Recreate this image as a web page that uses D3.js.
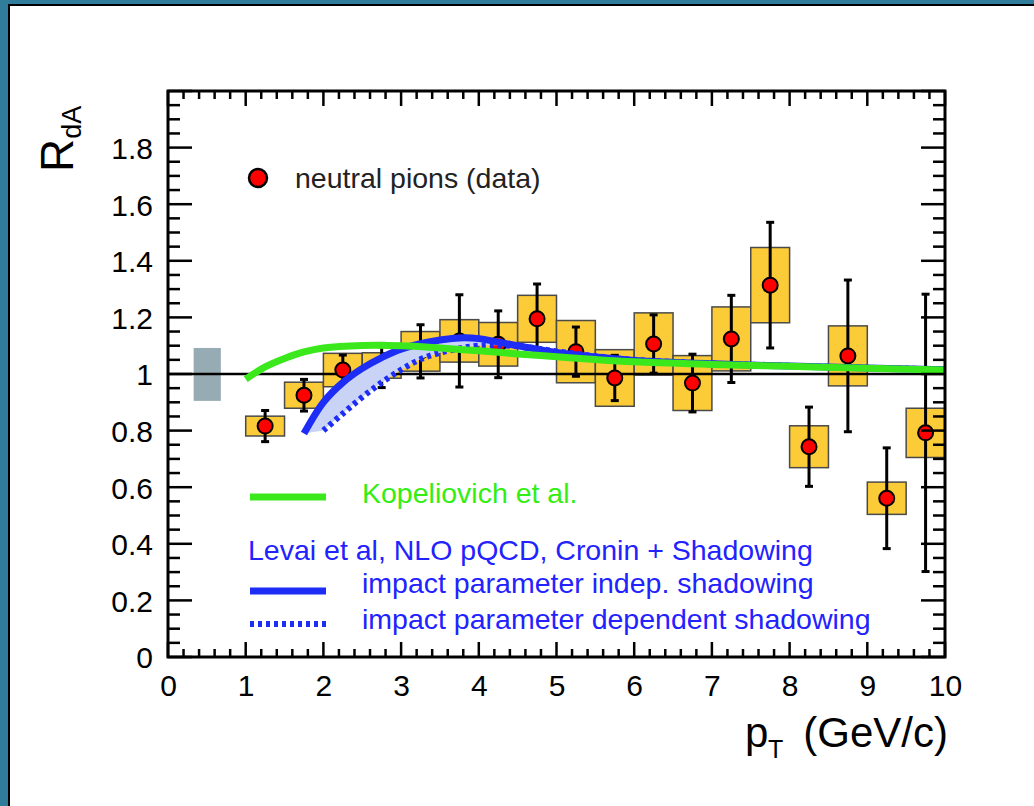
<!DOCTYPE html>
<html>
<head>
<meta charset="utf-8">
<script src="https://cdn.jsdelivr.net/npm/d3@7"></script>
<style>
html,body{margin:0;padding:0;background:#fff;}
svg{display:block;}
text{font-family:"Liberation Sans",Arial,Helvetica,sans-serif;}
</style>
</head>
<body>
<svg id="chart" width="1034" height="806"></svg>
<script>
// ---------- data ----------
const ptCenters = [1.25,1.75,2.25,2.75,3.25,3.75,4.25,4.75,5.25,5.75,6.25,6.75,7.25,7.75,8.25,8.75,9.25,9.75];
const rdaValues = [0.816,0.925,1.014,1.03,1.08,1.117,1.105,1.195,1.079,0.986,1.106,0.968,1.124,1.314,0.743,1.064,0.561,0.792];
const statErrors = [0.055,0.056,0.053,0.078,0.094,0.163,0.118,0.123,0.087,0.08,0.103,0.102,0.154,0.222,0.14,0.268,0.178,0.49];
const sysErrors = [0.035,0.046,0.059,0.045,0.07,0.075,0.077,0.083,0.11,0.1,0.11,0.097,0.113,0.133,0.074,0.106,0.057,0.087];
const binHalfWidth = 0.25;

const normBoxX = [0.33, 0.68];
const normBoxY = [0.905, 1.092];

const kopX = [1.0,1.25,1.5,1.75,2.0,2.5,3.0,3.5,4.0,4.5,5.0,5.5,6.0,7.0,8.0,9.0,10.0];
const kopY = [0.982,1.025,1.055,1.078,1.092,1.101,1.1,1.092,1.082,1.071,1.061,1.051,1.043,1.034,1.027,1.02,1.014];

const indepX = [1.75,2.0,2.25,2.5,2.75,3.0,3.5,3.8,4.0,4.5,5.0,5.5,6.0,7.0,8.0,9.0,10.0];
const indepY = [0.79,0.9,0.97,1.02,1.058,1.088,1.12,1.128,1.125,1.1,1.076,1.06,1.048,1.036,1.028,1.021,1.015];

const depX = [2.0,2.25,2.5,2.75,3.0,3.25,3.5,3.75,4.0,4.5,5.0,5.5,6.0,7.0,8.0,9.0,10.0];
const depY = [0.8,0.86,0.918,0.97,1.015,1.052,1.075,1.09,1.1,1.098,1.08,1.063,1.05,1.037,1.029,1.022,1.016];

const xTicks = [0,1,2,3,4,5,6,7,8,9,10];
const yTicks = [0,0.2,0.4,0.6,0.8,1,1.2,1.4,1.6,1.8];
const yTickLabels = ["0","0.2","0.4","0.6","0.8","1","1.2","1.4","1.6","1.8"];

// ---------- layout ----------
const svg = d3.select("#chart");
const L = 168, R = 945, T = 91, B = 657;
const x = d3.scaleLinear().domain([0,10]).range([L,R]);
const y = d3.scaleLinear().domain([0,2]).range([B,T]);

const teal = "#2f7c9b";
const green = "#3be81c";
const blue = "#1d2df5";
const textBlue = "#2222ff";

// frame border
svg.append("rect").attr("x",0).attr("y",0).attr("width",1034).attr("height",4).attr("fill",teal);
svg.append("rect").attr("x",0).attr("y",0).attr("width",8).attr("height",806).attr("fill",teal);
svg.append("line").attr("x1",8).attr("x2",1034).attr("y1",5).attr("y2",5).attr("stroke","#000").attr("stroke-width",2);
svg.append("line").attr("x1",9).attr("x2",9).attr("y1",4).attr("y2",806).attr("stroke","#000").attr("stroke-width",2);

const plot = svg.append("g");
const clip = svg.append("clipPath").attr("id","clipP");
clip.append("rect").attr("x",L).attr("y",T).attr("width",R-L).attr("height",B-T);

// normalization box
plot.append("rect")
  .attr("x",x(normBoxX[0])).attr("width",x(normBoxX[1])-x(normBoxX[0]))
  .attr("y",y(normBoxY[1])).attr("height",y(normBoxY[0])-y(normBoxY[1]))
  .attr("fill","#97abb4");

// systematic boxes
const pts = ptCenters.map((c,i)=>({x:c,y:rdaValues[i],s:statErrors[i],sys:sysErrors[i]}));
const gData = plot.append("g").attr("clip-path","url(#clipP)");
gData.selectAll("rect.sys").data(pts).enter().append("rect")
  .attr("x",d=>x(d.x-binHalfWidth))
  .attr("width",d=>x(Math.min(d.x+binHalfWidth,10))-x(d.x-binHalfWidth))
  .attr("y",d=>y(d.y+d.sys))
  .attr("height",d=>y(d.y-d.sys)-y(d.y+d.sys))
  .attr("fill","#fbcb38").attr("stroke","#4a4a4a").attr("stroke-width",1.5);

// line at 1
plot.append("line").attr("x1",x(0)).attr("x2",x(10)).attr("y1",y(1)).attr("y2",y(1))
  .attr("stroke","#000").attr("stroke-width",2.5);

// error bars
const eb = plot.append("g").attr("stroke","#000").attr("stroke-width",3);
pts.forEach(d=>{
  eb.append("line").attr("x1",x(d.x)).attr("x2",x(d.x)).attr("y1",y(d.y+d.s)).attr("y2",y(d.y-d.s));
  [d.y+d.s,d.y-d.s].forEach(v=>{
    eb.append("line").attr("x1",x(d.x)-4).attr("x2",x(d.x)+4).attr("y1",y(v)).attr("y2",y(v));
  });
});

// points
plot.selectAll("circle.pt").data(pts).enter().append("circle")
  .attr("cx",d=>x(d.x)).attr("cy",d=>y(d.y)).attr("r",7.5)
  .attr("fill","#ff0000").attr("stroke","#000").attr("stroke-width",2);

// theory curves
const line = d3.line().x(d=>x(d[0])).y(d=>y(d[1])).curve(d3.curveCatmullRom);
const indep = indepX.map((v,i)=>[v,indepY[i]]);
const dep = depX.map((v,i)=>[v,depY[i]]);
const kop = kopX.map((v,i)=>[v,kopY[i]]);

// band between the two shadowing curves
const bandPath = line(indep) + "L" + line(dep.slice().reverse()).slice(1) + "Z";
plot.append("path").attr("d",bandPath).attr("fill","#c9d3f6").attr("stroke","none");
plot.append("path").attr("d",line(dep)).attr("fill","none").attr("stroke",blue)
  .attr("stroke-width",6).attr("stroke-dasharray","4,4");
plot.append("path").attr("d",line(indep)).attr("fill","none").attr("stroke",blue)
  .attr("stroke-width",7);
plot.append("path").attr("d",line(kop)).attr("fill","none").attr("stroke",green)
  .attr("stroke-width",7);

// axes frame
const ax = svg.append("g").attr("stroke","#000");
ax.append("rect").attr("x",L).attr("y",T).attr("width",R-L).attr("height",B-T)
  .attr("fill","none").attr("stroke-width",3);

const xMinor = d3.range(0,10.001,0.2);
const yMinor = d3.range(0,2.001,0.05);
xMinor.forEach(v=>{
  const major = Math.abs(v-Math.round(v))<1e-6;
  const len = major?15:8;
  ax.append("line").attr("x1",x(v)).attr("x2",x(v)).attr("y1",B).attr("y2",B-len).attr("stroke-width",2.5);
  ax.append("line").attr("x1",x(v)).attr("x2",x(v)).attr("y1",T).attr("y2",T+len).attr("stroke-width",2.5);
});
yMinor.forEach(v=>{
  const major = Math.abs(v*5-Math.round(v*5))<1e-6;
  const len = major?24:12;
  ax.append("line").attr("x1",L).attr("x2",L+len).attr("y1",y(v)).attr("y2",y(v)).attr("stroke-width",2.5);
  ax.append("line").attr("x1",R).attr("x2",R-len).attr("y1",y(v)).attr("y2",y(v)).attr("stroke-width",2.5);
});

// tick labels
const xAxis = d3.axisBottom(x).tickValues(xTicks).tickFormat(d3.format("d")).tickSize(0).tickPadding(0);
const gx = svg.append("g").attr("transform",`translate(0,${B})`).call(xAxis);
gx.select(".domain").remove();
gx.selectAll("text").attr("font-size",30).attr("fill","#000").attr("dy",null).attr("y",39)
  .attr("font-family","Liberation Sans, Arial, sans-serif");

const yAxis = d3.axisLeft(y).tickValues(yTicks).tickFormat((d,i)=>yTickLabels[i]).tickSize(0).tickPadding(0);
const gy = svg.append("g").attr("transform",`translate(${L-15},0)`).call(yAxis);
gy.select(".domain").remove();
gy.selectAll("text").attr("font-size",30).attr("fill","#000").attr("x",0).attr("dy","0.36em")
  .attr("font-family","Liberation Sans, Arial, sans-serif");

// axis titles
const yt = svg.append("text").attr("transform","translate(73,172) rotate(-90)").attr("fill","#000");
yt.append("tspan").attr("font-size",46).text("R");
yt.append("tspan").attr("font-size",27).attr("dy",8).text("dA");

svg.append("text").attr("x",745).attr("y",747).attr("font-size",42).attr("fill","#000").text("p");
svg.append("text").attr("x",768).attr("y",758).attr("font-size",25).attr("fill","#000").text("T");
svg.append("text").attr("x",948).attr("y",747).attr("font-size",42).attr("text-anchor","end")
  .attr("fill","#000").text("(GeV/c)");

// legend
const lf = 28.5;
svg.append("circle").attr("cx",258).attr("cy",178).attr("r",9)
  .attr("fill","#ff0000").attr("stroke","#000").attr("stroke-width",2.5);
svg.append("text").attr("x",295).attr("y",188).attr("font-size",lf).attr("fill","#222").text("neutral pions (data)");

svg.append("line").attr("x1",250).attr("x2",326).attr("y1",497).attr("y2",497).attr("stroke",green).attr("stroke-width",7);
svg.append("text").attr("x",362).attr("y",503).attr("font-size",lf).attr("fill","#33ee11").text("Kopeliovich et al.");

svg.append("text").attr("x",248).attr("y",560).attr("font-size",lf).attr("fill",textBlue).text("Levai et al, NLO pQCD, Cronin + Shadowing");
svg.append("line").attr("x1",250).attr("x2",326).attr("y1",591).attr("y2",591).attr("stroke",blue).attr("stroke-width",7);
svg.append("text").attr("x",362).attr("y",593).attr("font-size",lf).attr("fill",textBlue).text("impact parameter indep. shadowing");
svg.append("line").attr("x1",250).attr("x2",326).attr("y1",624).attr("y2",624).attr("stroke",blue).attr("stroke-width",6).attr("stroke-dasharray","4,4");
svg.append("text").attr("x",362).attr("y",629).attr("font-size",lf).attr("fill",textBlue).text("impact parameter dependent shadowing");
</script>
</body>
</html>
